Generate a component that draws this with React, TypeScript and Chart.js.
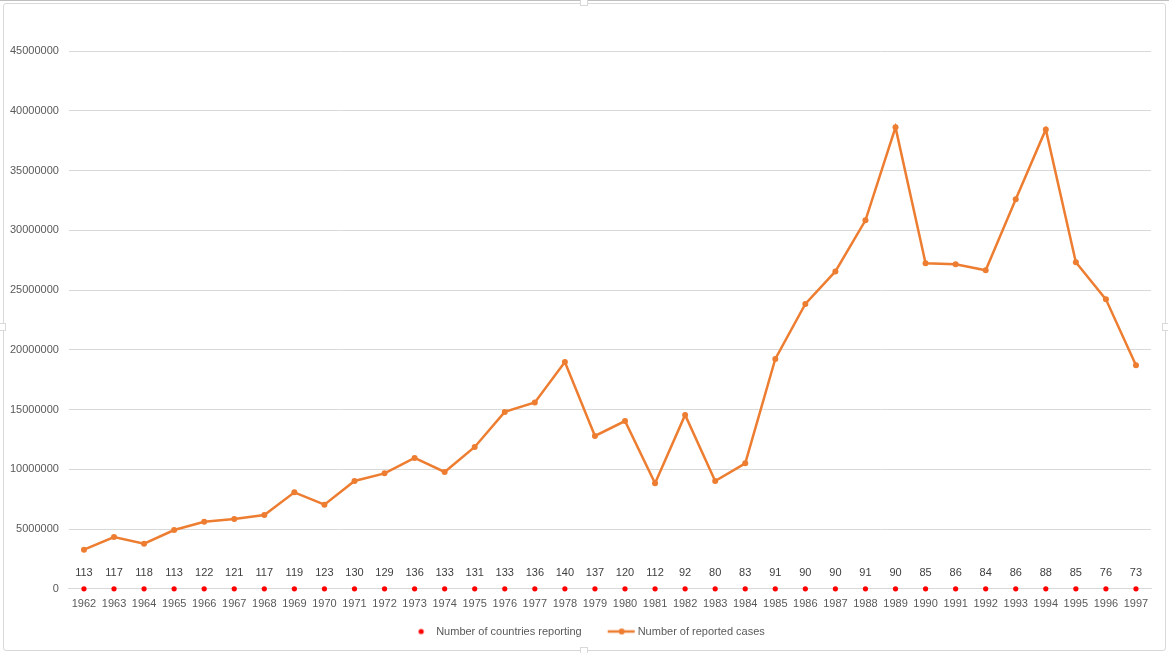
import React, { useEffect, useRef } from "react";
import { Chart, registerables } from "chart.js";

Chart.register(...registerables);

const years = [
  "1962", "1963", "1964", "1965", "1966", "1967", "1968", "1969", "1970", "1971", "1972", "1973",
  "1974", "1975", "1976", "1977", "1978", "1979", "1980", "1981", "1982", "1983", "1984", "1985",
  "1986", "1987", "1988", "1989", "1990", "1991", "1992", "1993", "1994", "1995", "1996", "1997",
];

const countriesReporting = [
  113, 117, 118, 113, 122, 121, 117, 119, 123, 130, 129, 136,
  133, 131, 133, 136, 140, 137, 120, 112, 92, 80, 83, 91,
  90, 90, 91, 90, 85, 86, 84, 86, 88, 85, 76, 73,
];

const reportedCases = [
  3270000, 4330000, 3770000, 4920000, 5610000, 5840000, 6170000, 8070000, 7040000, 9020000, 9660000, 10950000,
  9780000, 11870000, 14800000, 15590000, 18970000, 12790000, 14040000, 8830000, 14550000, 9020000, 10500000, 19230000,
  23830000, 26560000, 30830000, 38610000, 27230000, 27150000, 26650000, 32590000, 38440000, 27320000, 24220000, 18700000,
];

const seriesNames = ["Number of countries reporting", "Number of reported cases"];

const Y_MAX = 45000000;
const Y_STEP = 5000000;

const FONT = "'Liberation Sans', Arial, sans-serif";
const ORANGE = "#ED7D31";
const RED = "#FF0000";
const BOX_W = 44.5;

function makeIcon(kind: "dot" | "line"): HTMLCanvasElement {
  const c = document.createElement("canvas");
  c.width = 100;
  c.height = 12;
  const g = c.getContext("2d")!;
  const start = 50 - BOX_W / 2;
  if (kind === "dot") {
    g.fillStyle = RED;
    g.beginPath();
    g.arc(start + 35, 6, 2.6, 0, Math.PI * 2);
    g.fill();
  } else {
    g.strokeStyle = ORANGE;
    g.lineWidth = 2.5;
    g.beginPath();
    g.moveTo(start + 20, 6);
    g.lineTo(start + 47, 6);
    g.stroke();
    g.fillStyle = ORANGE;
    g.beginPath();
    g.arc(start + 34, 6, 3, 0, Math.PI * 2);
    g.fill();
  }
  return c;
}

const countLabelsPlugin = {
  id: "countLabels",
  afterDatasetsDraw(chart: any) {
    const meta = chart.getDatasetMeta(0);
    const ctx = chart.ctx;
    ctx.save();
    ctx.font = `11px ${FONT}`;
    ctx.fillStyle = "#404040";
    ctx.textAlign = "center";
    ctx.textBaseline = "middle";
    meta.data.forEach((el: any, i: number) => {
      ctx.fillText(String(countriesReporting[i]), el.x, el.y - 16);
    });
    ctx.restore();
  },
};

export default function App() {
  const ref = useRef<HTMLCanvasElement>(null);

  useEffect(() => {
    if (!ref.current) return;
    const dotIcon = makeIcon("dot");
    const lineIcon = makeIcon("line");
    const chart = new Chart(ref.current, {
      type: "line",
      data: {
        labels: years,
        datasets: [
          {
            label: seriesNames[0],
            data: countriesReporting,
            showLine: false,
            pointRadius: 2.6,
            pointHoverRadius: 2.6,
            pointBackgroundColor: RED,
            pointBorderWidth: 0,
            borderColor: RED,
            backgroundColor: RED,
            clip: false,
          } as any,
          {
            label: seriesNames[1],
            data: reportedCases,
            borderColor: ORANGE,
            backgroundColor: ORANGE,
            borderWidth: 2.5,
            pointRadius: 3,
            pointBackgroundColor: ORANGE,
            pointBorderColor: ORANGE,
            pointBorderWidth: 0,
            tension: 0,
          },
        ],
      },
      options: {
        responsive: false,
        animation: false,
        devicePixelRatio: 1,
        layout: { padding: { left: 0, right: 18, top: 51, bottom: 7 } },
        plugins: {
          tooltip: { enabled: false },
          legend: {
            position: "bottom",
            labels: {
              usePointStyle: true,
              pointStyleWidth: BOX_W,
              padding: 6,
              color: "#595959",
              font: { family: FONT, size: 11 },
              generateLabels: () => [
                {
                  text: seriesNames[0],
                  pointStyle: dotIcon as any,
                  fillStyle: RED,
                  strokeStyle: RED,
                  lineWidth: 0,
                  hidden: false,
                  datasetIndex: 0,
                  fontColor: "#595959",
                },
                {
                  text: seriesNames[1],
                  pointStyle: lineIcon as any,
                  fillStyle: ORANGE,
                  strokeStyle: ORANGE,
                  lineWidth: 0,
                  hidden: false,
                  datasetIndex: 1,
                  fontColor: "#595959",
                },
              ],
            },
          },
        },
        scales: {
          x: {
            type: "category",
            offset: true,
            grid: { display: false, drawTicks: false },
            border: { display: true, color: "#D9D9D9", width: 1 },
            ticks: {
              color: "#595959",
              font: { family: FONT, size: 11 },
              padding: 9,
              maxRotation: 0,
              autoSkip: false,
            },
          },
          y: {
            min: 0,
            max: Y_MAX,
            grid: { color: "#D9D9D9", lineWidth: 1, drawTicks: false },
            border: { display: false },
            ticks: {
              stepSize: Y_STEP,
              color: "#595959",
              font: { family: FONT, size: 11 },
              padding: 10,
              callback: (v: any) => String(v),
            },
          },
        },
      },
      plugins: [countLabelsPlugin],
    });
    return () => chart.destroy();
  }, []);

  return (
    <div style={{ position: "relative", width: 1169, height: 654, background: "#fff" }}>
      <style>{`body{margin:0;}`}</style>
      <div style={{ position: "absolute", left: 0, top: 0, width: 1169, height: 1, background: "#BFBFBF" }} />
      <div
        style={{
          position: "absolute",
          left: 3,
          top: 3,
          width: 1161,
          height: 646,
          border: "1px solid #D9D9D9",
          borderRadius: 3,
        }}
      />
      <canvas ref={ref} width={1169} height={654} style={{ position: "absolute", left: 0, top: 0 }} />
      <div style={{ position: "absolute", left: 580, top: 0, width: 6, height: 5, background: "#fff", border: "1px solid #D9D9D9", borderTop: "none" }} />
      <div style={{ position: "absolute", left: 580, top: 647, width: 6, height: 5, background: "#fff", border: "1px solid #D9D9D9", borderBottom: "none" }} />
      <div style={{ position: "absolute", left: 0, top: 323, width: 5, height: 6, background: "#fff", border: "1px solid #D9D9D9", borderLeft: "none" }} />
      <div style={{ position: "absolute", left: 1162, top: 323, width: 5, height: 6, background: "#fff", border: "1px solid #D9D9D9", borderRight: "none" }} />
    </div>
  );
}
